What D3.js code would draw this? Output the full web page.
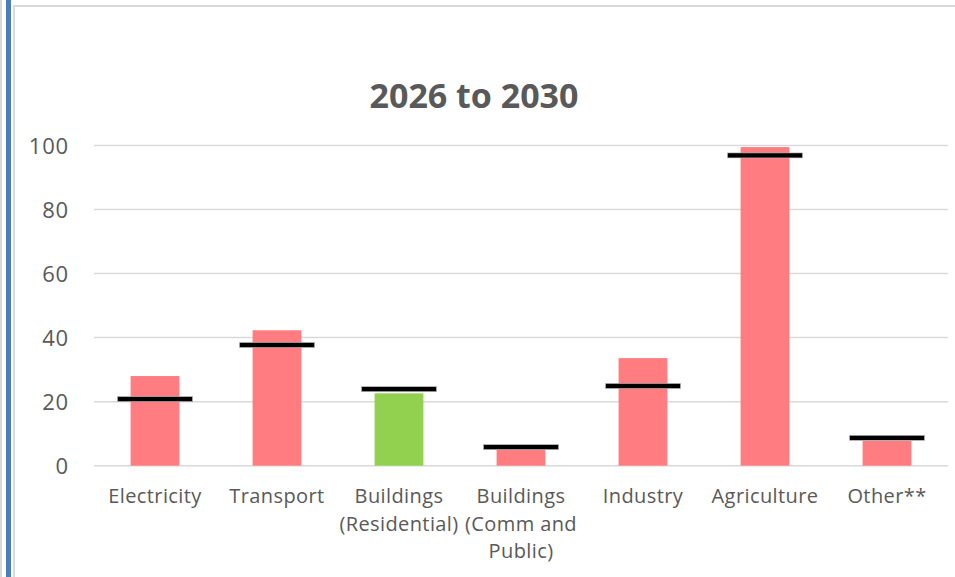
<!DOCTYPE html>
<html>
<head>
<meta charset="utf-8">
<script src="https://cdn.jsdelivr.net/npm/d3@7"></script>
<style>
  body { margin: 0; background: #fff; }
  svg { display: block; font-family: "Open Sans", sans-serif; }
</style>
</head>
<body>
<div id="chart"></div>
<script>
// Emissionen je Sektor, Ist-Werte gegen Zielwerte
const categories = ["Electricity", "Transport", "Buildings (Residential)", "Buildings (Comm and Public)", "Industry", "Agriculture", "Other**"];
const labelLines = [["Electricity"], ["Transport"], ["Buildings", "(Residential)"], ["Buildings", "(Comm and", "Public)"], ["Industry"], ["Agriculture"], ["Other**"]];
const actual = [28, 42.3, 22.6, 4.9, 33.6, 99.5, 7.8];
const target = [20.8, 37.7, 23.9, 5.8, 24.9, 96.9, 8.7];
const onTrack = [false, false, true, false, false, false, false];
const yTicks = [0, 20, 40, 60, 80, 100];
const title = "2026 to 2030";

const W = 955, H = 577;
const svg = d3.select("#chart").append("svg")
    .attr("width", W)
    .attr("height", H);

// Rahmen links / oben
svg.append("rect").attr("x", 0).attr("y", 0).attr("width", 2).attr("height", H).attr("fill", "#d9d9d9");
svg.append("rect").attr("x", 6).attr("y", 0).attr("width", 5).attr("height", H).attr("fill", "#4a7ebb");
svg.append("rect").attr("x", 13).attr("y", 5).attr("width", 2).attr("height", H).attr("fill", "#d9d9d9");
svg.append("rect").attr("x", 13).attr("y", 5).attr("width", W - 13).attr("height", 2).attr("fill", "#d9d9d9");

const x = d3.scaleBand()
    .domain(categories)
    .range([94, 948])
    .padding(0);

const y = d3.scaleLinear()
    .domain([0, 100])
    .range([465.7, 145.5]);

// Gitterlinien
svg.append("g")
    .selectAll("line")
    .data(yTicks)
    .enter().append("line")
    .attr("x1", 94)
    .attr("x2", 948)
    .attr("y1", d => y(d))
    .attr("y2", d => y(d))
    .attr("stroke", "#d9d9d9")
    .attr("stroke-width", 1.5);

// y-Achse Beschriftung
const yAxis = d3.axisLeft(y).tickValues(yTicks).tickSize(0).tickPadding(0);
const yg = svg.append("g")
    .attr("transform", "translate(69,0)")
    .call(yAxis);
yg.select(".domain").remove();
yg.selectAll("text")
    .attr("fill", "#595959")
    .style("font-size", "22px")
    .style("letter-spacing", "0.8px")
    .style("font-family", "'Open Sans', sans-serif")
    .attr("dy", "0.36em");

const bw = x.bandwidth();
const barW = bw * 0.4;
const tgtW = bw * 0.615;

// Balken
svg.append("g")
    .selectAll("rect")
    .data(categories)
    .enter().append("rect")
    .attr("x", d => x(d) + (bw - barW) / 2)
    .attr("width", barW)
    .attr("y", (d, i) => y(actual[i]))
    .attr("height", (d, i) => y(0) - y(actual[i]))
    .attr("fill", (d, i) => onTrack[i] ? "#92d050" : "#ff7c80");

// Zielmarken
svg.append("g")
    .selectAll("rect")
    .data(categories)
    .enter().append("rect")
    .attr("x", d => x(d) + (bw - tgtW) / 2)
    .attr("width", tgtW)
    .attr("y", (d, i) => y(target[i]) - 2.5)
    .attr("height", 5)
    .attr("fill", "#000")
    .attr("stroke", "#bfbfbf")
    .attr("stroke-width", 0.6);

// Kategorien
const lab = svg.append("g")
    .selectAll("text")
    .data(categories)
    .enter().append("text")
    .attr("text-anchor", "middle")
    .attr("fill", "#595959")
    .style("font-size", "20px")
    .style("letter-spacing", "0.4px");
lab.each(function(d, i) {
    const t = d3.select(this);
    labelLines[i].forEach((ln, k) => {
        t.append("tspan")
            .attr("x", x(d) + bw / 2)
            .attr("y", 503 + k * 27.5)
            .text(ln);
    });
});

// Titel
svg.append("text")
    .attr("x", 474)
    .attr("y", 108)
    .attr("text-anchor", "middle")
    .attr("fill", "#595959")
    .style("font-size", "34px")
    .style("font-weight", "bold")
    .text(title);
</script>
</body>
</html>
